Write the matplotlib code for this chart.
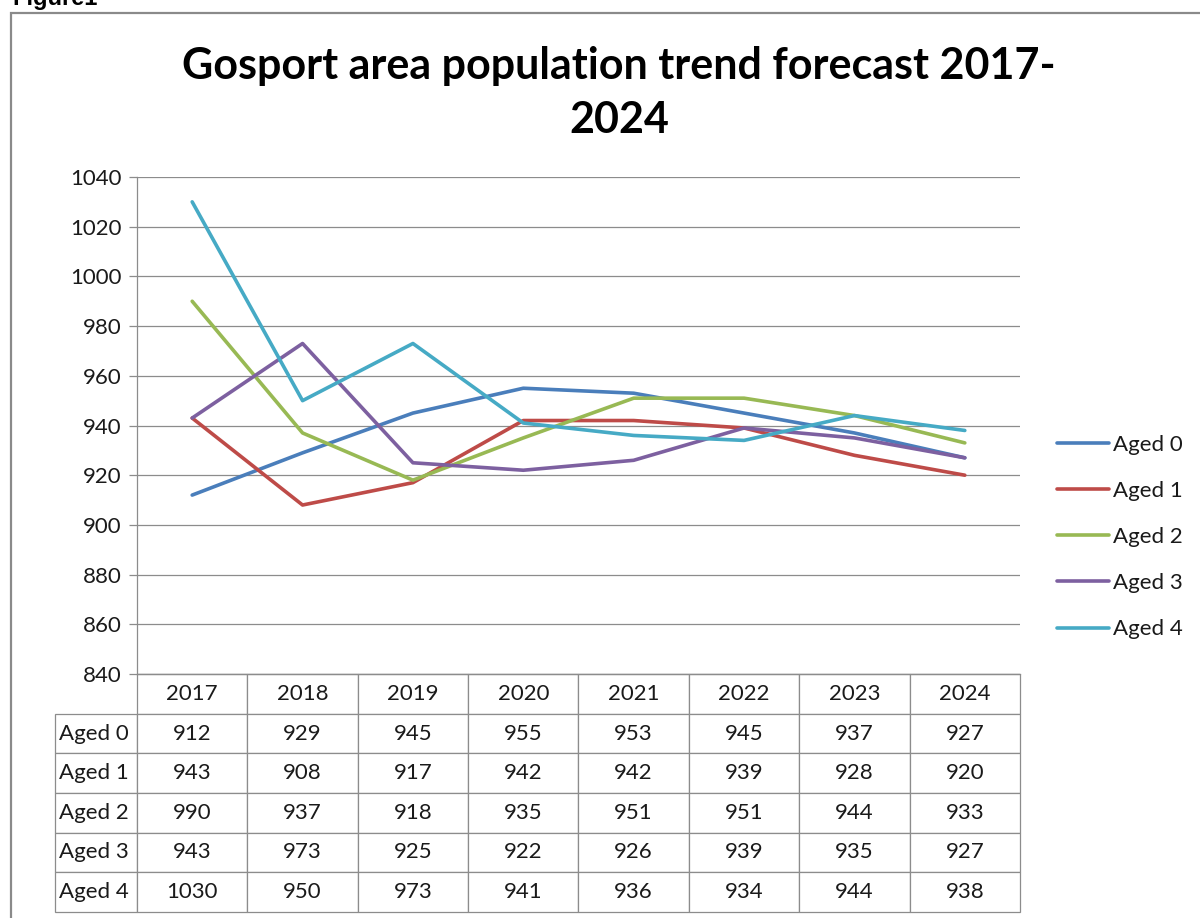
import matplotlib
matplotlib.use("Agg")
import matplotlib.pyplot as plt
from matplotlib.patches import Rectangle

years = ["2017", "2018", "2019", "2020", "2021", "2022", "2023", "2024"]
series_names = ["Aged 0", "Aged 1", "Aged 2", "Aged 3", "Aged 4"]
aged0 = [912, 929, 945, 955, 953, 945, 937, 927]
aged1 = [943, 908, 917, 942, 942, 939, 928, 920]
aged2 = [990, 937, 918, 935, 951, 951, 944, 933]
aged3 = [943, 973, 925, 922, 926, 939, 935, 927]
aged4 = [1030, 950, 973, 941, 936, 934, 944, 938]
series_values = [aged0, aged1, aged2, aged3, aged4]
colors = ["#4A7EBB", "#BE4B48", "#98B954", "#7D60A0", "#46AAC5"]
title = "Gosport area population trend forecast 2017-\n2024"

W, H = 1200, 918
FONT = "Lato"
FS = 16
plt.rcParams['font.family'] = [FONT, 'DejaVu Sans']

fig = plt.figure(figsize=(W / 100, H / 100), dpi=100)

def fx(px):
    return px / W

def fy(py):
    return 1 - py / H

# outer frame
fig.patches.append(Rectangle((fx(11), fy(1000)), fx(1300), fy(13) - fy(1000),
                             transform=fig.transFigure, fill=False,
                             edgecolor="#8a8a8a", linewidth=1.6))
fig.text(fx(12), fy(5), "Figure1", fontsize=17, fontweight="bold",
         family=["Liberation Sans", "DejaVu Sans"], va="baseline", ha="left")

# plot area
L, R, T, B = 137, 1020, 177, 674
ax = fig.add_axes([fx(L), fy(B), fx(R - L), fy(T) - fy(B)])
x = list(range(len(years)))
for name, vals, c in zip(series_names, series_values, colors):
    ax.plot(x, vals, color=c, linewidth=2.6, label=name, solid_capstyle="round")

ax.set_xlim(-0.5, len(years) - 0.5)
ax.set_ylim(840, 1040)
ax.set_yticks(range(840, 1041, 20))
ax.yaxis.grid(True, color="#8c8c8c", linewidth=0.9)
ax.set_axisbelow(True)
for s in ["top", "right"]:
    ax.spines[s].set_visible(False)
for s in ["left", "bottom"]:
    ax.spines[s].set_color("#8c8c8c")
    ax.spines[s].set_linewidth(0.9)
ax.set_xticks([])
ax.tick_params(axis="y", length=6, width=0.9, color="#8c8c8c", pad=5,
               labelsize=FS, labelcolor="#1a1a1a")

# data table (first column holds series names, corner cell is blank)
label_w = 82 / 965
colw = 110.4 / 965
full_text = [[""] + years] + [[name] + [str(v) for v in vals]
                               for name, vals in zip(series_names, series_values)]
table = ax.table(cellText=full_text, cellLoc="center",
                 colWidths=[label_w] + [colw] * len(years),
                 bbox=[-82 / 883, -(912 - B) / (B - T), 965 / 883, (912 - B) / (B - T)])
table.auto_set_font_size(False)
table.set_fontsize(FS)
for (r, c), cell in table.get_celld().items():
    cell.set_edgecolor("#8c8c8c")
    cell.set_linewidth(0.9)
    cell.get_text().set_color("#1a1a1a")
    if c == 0:
        cell.PAD = 0.05
        cell.get_text().set_horizontalalignment("left")
        cell._loc = "left"
    if r == 0 and c == 0:
        cell.visible_edges = ""

# legend
leg = fig.legend(loc="center left", bbox_to_anchor=(fx(1057), fy(537)),
                 frameon=False, fontsize=FS, handlelength=2.35,
                 handletextpad=0.18, labelspacing=1.18, borderpad=0,
                 borderaxespad=0)
for t in leg.get_texts():
    t.set_color("#1a1a1a")

fig.text(fx(619), fy(93), title, fontsize=31, fontweight="bold",
         ha="center", va="center", linespacing=1.45)

fig.savefig("out.png", dpi=100, facecolor="white")
